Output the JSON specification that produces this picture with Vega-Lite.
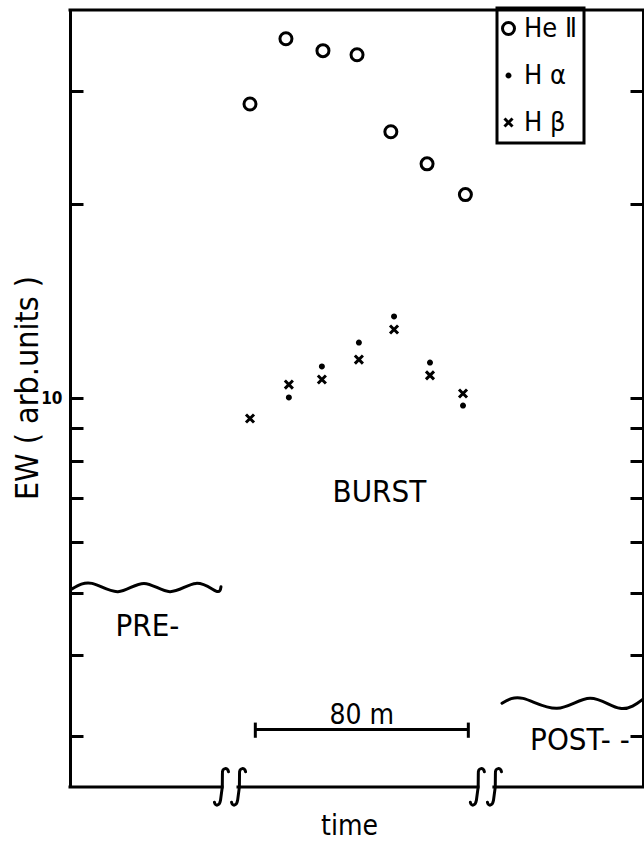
{
  "$schema": "https://vega.github.io/schema/vega-lite/v6.json",
  "width": 573,
  "height": 777,
  "autosize": {"type": "none"},
  "padding": {"left": 70, "top": 10, "right": 1, "bottom": 55},
  "background": "white",
  "config": {
    "view": {"stroke": null},
    "font": "DejaVu Sans Condensed",
    "text": {"color": "black"}
  },
  "datasets": {
    "obs": [
      {"series": "HeⅡ", "t": 0, "ew": 28.6},
      {"series": "HeⅡ", "t": 13.5, "ew": 36.1},
      {"series": "HeⅡ", "t": 27.4, "ew": 34.6},
      {"series": "HeⅡ", "t": 40.2, "ew": 34.1},
      {"series": "HeⅡ", "t": 52.9, "ew": 25.9},
      {"series": "HeⅡ", "t": 66.5, "ew": 23.1},
      {"series": "HeⅡ", "t": 80.9, "ew": 20.7},
      {"series": "H α", "t": 14.6, "ew": 10.04},
      {"series": "H α", "t": 27.0, "ew": 11.21},
      {"series": "H α", "t": 40.9, "ew": 12.21},
      {"series": "H α", "t": 54.1, "ew": 13.4},
      {"series": "H α", "t": 67.6, "ew": 11.37},
      {"series": "H α", "t": 80.0, "ew": 9.75},
      {"series": "H β", "t": 0, "ew": 9.31},
      {"series": "H β", "t": 14.6, "ew": 10.51},
      {"series": "H β", "t": 27.0, "ew": 10.70},
      {"series": "H β", "t": 40.9, "ew": 11.49},
      {"series": "H β", "t": 54.1, "ew": 12.79},
      {"series": "H β", "t": 67.6, "ew": 10.86},
      {"series": "H β", "t": 80.0, "ew": 10.18}
    ],
    "frame": [
      {"t": -67.6, "t2": -10.5, "ew": 2.5},
      {"t": -4.5, "t2": 85.6, "ew": 2.5},
      {"t": 91.6, "t2": 147.6, "ew": 2.5},
      {"t": -67.6, "t2": 147.6, "ew": 40}
    ],
    "breaks": [
      {"t": -7.5, "ew": 2.5},
      {"t": 88.6, "ew": 2.5}
    ],
    "waves": [
      {"phase": "pre", "t": -66.85, "ew": 5.07},
      {"phase": "pre", "t": -59.34, "ew": 5.17},
      {"phase": "pre", "t": -49.58, "ew": 5.02},
      {"phase": "pre", "t": -39.81, "ew": 5.17},
      {"phase": "pre", "t": -30.05, "ew": 5.02},
      {"phase": "pre", "t": -20.28, "ew": 5.17},
      {"phase": "pre", "t": -12.77, "ew": 5.03},
      {"phase": "pre", "t": -10.89, "ew": 5.11},
      {"phase": "post", "t": 94.65, "ew": 3.37},
      {"phase": "post", "t": 102.54, "ew": 3.43},
      {"phase": "post", "t": 115.31, "ew": 3.31},
      {"phase": "post", "t": 127.7, "ew": 3.43},
      {"phase": "post", "t": 138.97, "ew": 3.31},
      {"phase": "post", "t": 147.98, "ew": 3.43}
    ],
    "bar": [{"t": 2, "t2": 82, "ew": 3.07}],
    "caps": [
      {"t": 2, "ew": 2.98, "ew2": 3.146},
      {"t": 82, "ew": 2.98, "ew2": 3.146}
    ],
    "labels": [
      {"label": "BURST", "t": 48.6, "ew": 6.9},
      {"label": "PRE-", "t": -38.5, "ew": 4.29}
    ],
    "leftlabels": [
      {"label": "POST- -", "t": 105.2, "ew": 2.85}
    ],
    "barlabel": [
      {"label": "80 m", "t": 42, "ew": 3.13},
      {"label": "time", "t": 37.4, "ew": 2.105}
    ]
  },
  "layer": [
    {
      "data": {"name": "frame"},
      "mark": {"type": "rule", "stroke": "black", "strokeWidth": 3, "strokeCap": "square"},
      "encoding": {
        "x": {
          "field": "t", "type": "quantitative",
          "scale": {"domain": [-67.6, 147.6], "nice": false, "zero": false},
          "axis": null
        },
        "x2": {"field": "t2"},
        "y": {
          "field": "ew", "type": "quantitative",
          "scale": {"type": "log", "domain": [2.5, 40], "nice": false},
          "axis": {
            "orient": "right", "values": [3, 4, 5, 6, 7, 8, 9, 10, 20, 30],
            "tickSize": -13, "tickWidth": 3, "tickColor": "black",
            "domainWidth": 3, "domainColor": "black",
            "labels": false, "title": null, "grid": false
          }
        }
      }
    },
    {
      "data": {"name": "breaks"},
      "mark": {
        "type": "point", "filled": false, "stroke": "black", "strokeWidth": 3, "opacity": 1, "strokeCap": "round",
        "size": 1444,
        "shape": "M-0.08,-0.8C-0.12,-1.04,-0.42,-1.04,-0.4,-0.7C-0.38,-0.3,-0.42,0.3,-0.5,0.7C-0.56,1.02,-0.78,1.02,-0.82,0.8M0.82,-0.8C0.78,-1.04,0.48,-1.04,0.5,-0.7C0.52,-0.3,0.48,0.3,0.4,0.7C0.34,1.02,0.12,1.02,0.08,0.8"
      },
      "encoding": {
        "x": {"field": "t", "type": "quantitative", "axis": null},
        "y": {"field": "ew", "type": "quantitative", "axis": null}
      }
    },
    {
      "data": {"name": "waves"},
      "mark": {"type": "line", "stroke": "black", "strokeWidth": 3, "interpolate": "natural", "strokeCap": "round"},
      "encoding": {
        "x": {"field": "t", "type": "quantitative", "axis": null},
        "y": {"field": "ew", "type": "quantitative", "axis": null},
        "detail": {"field": "phase", "type": "nominal"}
      }
    },
    {
      "data": {"name": "bar"},
      "mark": {"type": "rule", "stroke": "black", "strokeWidth": 3},
      "encoding": {
        "x": {"field": "t", "type": "quantitative", "axis": null},
        "x2": {"field": "t2"},
        "y": {"field": "ew", "type": "quantitative", "axis": null}
      }
    },
    {
      "data": {"name": "caps"},
      "mark": {"type": "rule", "stroke": "black", "strokeWidth": 3},
      "encoding": {
        "x": {"field": "t", "type": "quantitative", "axis": null},
        "y": {"field": "ew", "type": "quantitative", "axis": null},
        "y2": {"field": "ew2"}
      }
    },
    {
      "data": {"name": "labels"},
      "mark": {"type": "text", "font": "DejaVu Sans Condensed", "fontSize": 31, "baseline": "alphabetic", "align": "center", "color": "black"},
      "encoding": {
        "x": {"field": "t", "type": "quantitative", "axis": null},
        "y": {"field": "ew", "type": "quantitative", "axis": null},
        "text": {"field": "label"}
      }
    },
    {
      "data": {"name": "leftlabels"},
      "mark": {"type": "text", "font": "DejaVu Sans Condensed", "fontSize": 31, "baseline": "alphabetic", "align": "left", "color": "black"},
      "encoding": {
        "x": {"field": "t", "type": "quantitative", "axis": null},
        "y": {"field": "ew", "type": "quantitative", "axis": null},
        "text": {"field": "label"}
      }
    },
    {
      "data": {"name": "barlabel"},
      "mark": {"type": "text", "font": "DejaVu Sans Condensed", "fontSize": 28, "baseline": "alphabetic", "align": "center", "color": "black"},
      "encoding": {
        "x": {"field": "t", "type": "quantitative", "axis": null},
        "y": {"field": "ew", "type": "quantitative", "axis": null},
        "text": {"field": "label"}
      }
    },
    {
      "data": {"name": "obs"},
      "mark": {"type": "point", "filled": false, "stroke": "black", "strokeWidth": 3, "opacity": 1, "size": 144},
      "encoding": {
        "x": {"field": "t", "type": "quantitative", "axis": null},
        "y": {
          "field": "ew", "type": "quantitative",
          "axis": {
            "orient": "left", "values": [3, 4, 5, 6, 7, 8, 9, 10, 20, 30],
            "tickSize": -13, "tickWidth": 3, "tickColor": "black",
            "domainWidth": 3, "domainColor": "black", "grid": false,
            "labelExpr": "datum.value == 10 ? '10' : ''",
            "labelFont": "DejaVu Sans Condensed", "labelFontWeight": "bold", "labelFontSize": 17,
            "labelColor": "black", "labelPadding": 21,
            "title": "EW ( arb.units )", "titleFont": "DejaVu Sans Condensed", "titleFontSize": 32,
            "titleFontWeight": "normal", "titleColor": "black",
            "titleX": -33, "titleY": 377.5, "titleAngle": -90, "titleAlign": "center", "titleBaseline": "alphabetic"
          }
        },
        "shape": {
          "field": "series", "type": "nominal",
          "scale": {
            "domain": ["HeⅡ", "H α", "H β"],
            "range": [
              "M1,0A1,1,0,1,1,-1,0A1,1,0,1,1,1,0Z",
              "M0.25,0A0.25,0.25,0,1,1,-0.25,0A0.25,0.25,0,1,1,0.25,0Z",
              "M-0.67,-0.67L0.67,0.67M0.67,-0.67L-0.67,0.67"
            ]
          },
          "legend": {
            "title": null, "orient": "none", "legendX": 427, "legendY": -2,
            "strokeColor": "black", "padding": 7,
            "labelFont": "DejaVu Sans Condensed", "labelFontSize": 27, "labelColor": "black",
            "labelExpr": "datum.label == 'HeⅡ' ? 'He Ⅱ' : '\u2005' + datum.label",
            "symbolSize": 144, "symbolStrokeWidth": 3, "symbolStrokeColor": "black", "symbolFillColor": "transparent",
            "symbolOffset": -9,
            "rowPadding": 19, "labelOffset": 2,
            "encoding": {"legend": {"strokeWidth": {"value": 3}}}
          }
        }
      }
    }
  ],
  "resolve": {"axis": {"y": "independent"}}
}
